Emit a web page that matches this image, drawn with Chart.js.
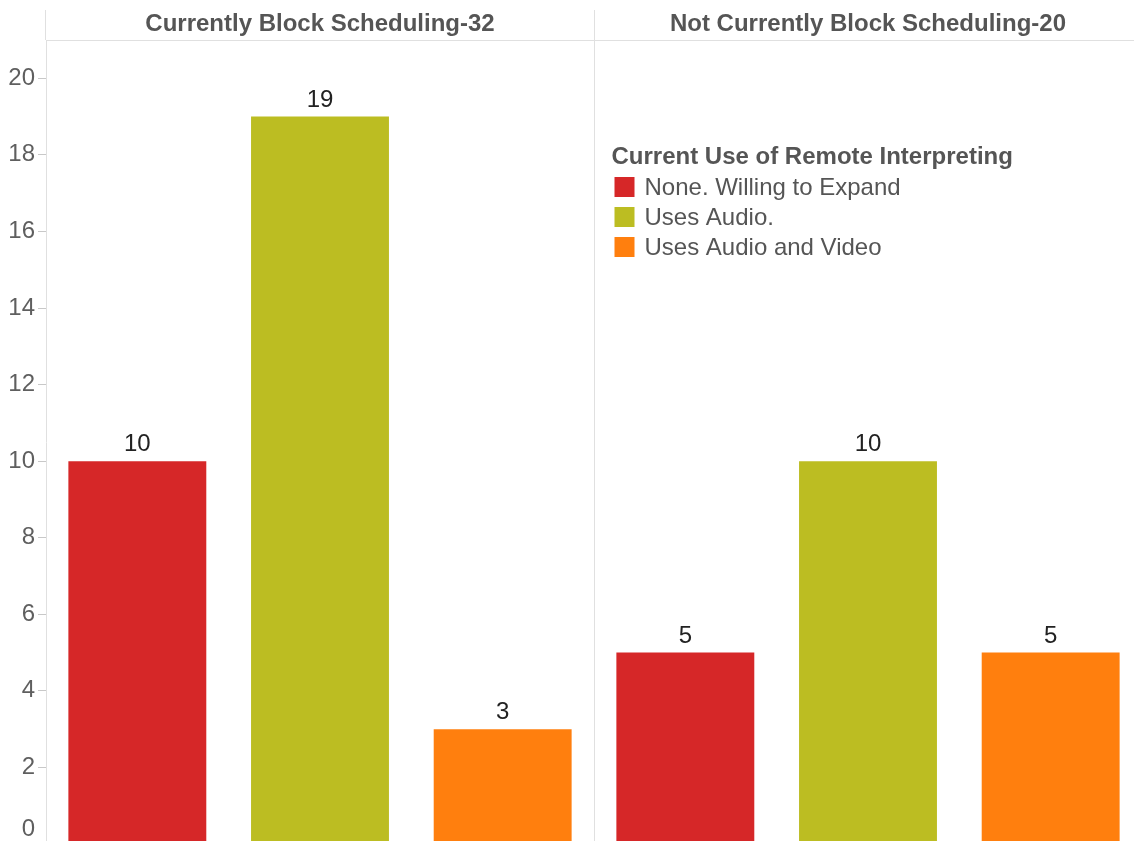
<!DOCTYPE html>
<html>
<head>
<meta charset="utf-8">
<script src="https://cdn.jsdelivr.net/npm/chart.js@4/dist/chart.umd.min.js"></script>
<style>
  html, body { margin: 0; padding: 0; background: #fff; overflow: hidden; width: 1134px; height: 841px; }
  #wrap { position: absolute; left: 0; top: 0; width: 1142px; height: 846px; }
</style>
</head>
<body>
<div id="wrap"><canvas id="c" width="1142" height="846"></canvas></div>
<script>
// ---- data ----
const panels = ['Currently Block Scheduling-32', 'Not Currently Block Scheduling-20'];
const categories = ['None. Willing to Expand', 'Uses Audio.', 'Uses Audio and Video'];
const blockValues = [10, 19, 3];
const notBlockValues = [5, 10, 5];
const colors = ['#d62728', '#bcbd22', '#ff7f0e'];
const legendTitle = 'Current Use of Remote Interpreting';
const yTicks = [0, 2, 4, 6, 8, 10, 12, 14, 16, 18, 20];

const FONT = 'Arial, "Liberation Sans", sans-serif';
const panelValues = [blockValues, notBlockValues];

// x labels: one slot per (panel, category)
const xLabels = [];
panels.forEach(p => categories.forEach(c => xLabels.push(p + ' | ' + c)));

const datasets = categories.map((cat, ci) => {
  const data = [];
  panelValues.forEach(vals => {
    categories.forEach((c, k) => data.push(k === ci ? vals[ci] : null));
  });
  return { label: cat, data, backgroundColor: colors[ci], borderWidth: 0 };
});

const decorPlugin = {
  id: 'decor',
  beforeDatasetsDraw(chart) {
    const ctx = chart.ctx, ca = chart.chartArea, xs = chart.scales.x;
    ctx.save();
    ctx.strokeStyle = '#e0e0e0';
    ctx.lineWidth = 1;
    // header line
    ctx.beginPath();
    ctx.moveTo(ca.left, ca.top + 0.5);
    ctx.lineTo(ca.right, ca.top + 0.5);
    ctx.stroke();
    // axis extension to top
    ctx.beginPath();
    ctx.moveTo(ca.left - 0.5, 10);
    ctx.lineTo(ca.left - 0.5, ca.top);
    ctx.stroke();
    // divider between panels
    const n = categories.length;
    const dx = Math.round((xs.getPixelForValue(n - 1) + xs.getPixelForValue(n)) / 2) + 0.5;
    ctx.beginPath();
    ctx.moveTo(dx, 10);
    ctx.lineTo(dx, ca.bottom);
    ctx.stroke();
    // panel titles
    ctx.fillStyle = '#555555';
    ctx.font = 'bold 24px ' + FONT;
    ctx.textAlign = 'center';
    ctx.textBaseline = 'middle';
    const band = xs.getPixelForValue(1) - xs.getPixelForValue(0);
    panels.forEach((p, pi) => {
      const l = xs.getPixelForValue(pi * n) - band / 2;
      const r = xs.getPixelForValue(pi * n + n - 1) + band / 2;
      ctx.fillText(p, (l + r) / 2, 24);
    });
    // legend
    const lx = dx + 17;
    ctx.textAlign = 'left';
    ctx.font = 'bold 24px ' + FONT;
    ctx.fillText(legendTitle, lx, 157);
    ctx.font = '24px ' + FONT;
    categories.forEach((c, i) => {
      const cy = 187 + i * 30;
      ctx.fillStyle = colors[i];
      ctx.fillRect(lx + 3, cy - 10, 20, 20);
      ctx.fillStyle = '#555555';
      ctx.fillText(c, lx + 33, cy + 1);
    });
    ctx.restore();
  },
  afterDatasetsDraw(chart) {
    const ctx = chart.ctx;
    ctx.save();
    ctx.fillStyle = '#222222';
    ctx.font = '24px ' + FONT;
    ctx.textAlign = 'center';
    ctx.textBaseline = 'alphabetic';
    chart.data.datasets.forEach((ds, di) => {
      const meta = chart.getDatasetMeta(di);
      meta.data.forEach((el, i) => {
        const v = ds.data[i];
        if (v === null || v === undefined) return;
        ctx.fillText(String(v), el.x, el.y - 10);
      });
    });
    ctx.restore();
  }
};

new Chart(document.getElementById('c'), {
  type: 'bar',
  data: { labels: xLabels, datasets },
  options: {
    responsive: false,
    animation: false,
    devicePixelRatio: 1,
    layout: { padding: { top: 40, bottom: 2, left: 0, right: 0 } },
    plugins: { legend: { display: false }, tooltip: { enabled: false } },
    datasets: { bar: { grouped: false, categoryPercentage: 1, barPercentage: 0.755 } },
    scales: {
      x: { display: false, offset: true },
      y: {
        min: 0, max: 21,
        afterBuildTicks(scale) { scale.ticks = yTicks.map(v => ({ value: v })); },
        afterFit(scale) { scale.width = 46; scale.paddingTop = 0; scale.paddingBottom = 0; },
        ticks: {
          color: '#5f5f5f',
          font: { family: FONT, size: 24 },
          padding: 3,
          callback: (v) => v === 0 ? ['0', ''] : String(v)
        },
        grid: { drawOnChartArea: false, drawTicks: true, tickLength: 8, color: '#c8c8c8', lineWidth: 1 },
        border: { display: true, color: '#e0e0e0' }
      }
    }
  },
  plugins: [decorPlugin]
});
</script>
</body>
</html>
